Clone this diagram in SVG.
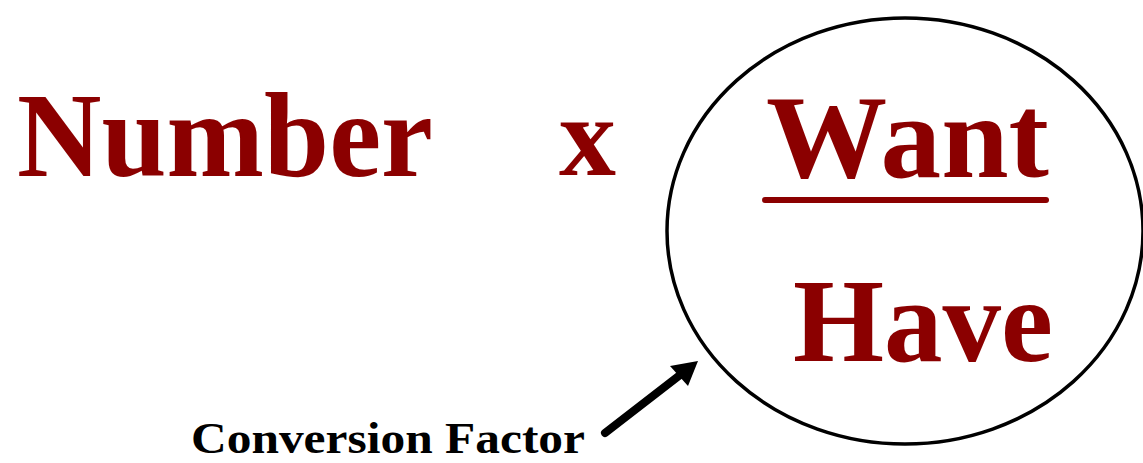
<svg xmlns="http://www.w3.org/2000/svg" width="1143" height="463" viewBox="0 0 1143 463">
<style>
.big{font-family:"Liberation Serif","Times New Roman",serif;font-weight:bold;fill:#8B0000;}
.lbl{font-family:"Liberation Serif","Times New Roman",serif;font-weight:bold;fill:#000;}
</style>
<rect width="1143" height="463" fill="#fff"/>
<g id="number"><text class="big" x="17" y="176" font-size="120" textLength="416" lengthAdjust="spacingAndGlyphs">Number</text></g>
<g id="times"><text class="big" x="559" y="175" font-size="114">x</text></g>
<g id="factor">
<ellipse cx="905" cy="231" rx="238" ry="213" fill="none" stroke="#000" stroke-width="3.5"/>
<text class="big" x="766" y="177" font-size="118" textLength="283" lengthAdjust="spacingAndGlyphs">Want</text>
<line x1="765" y1="200" x2="1046" y2="200" stroke="#8B0000" stroke-width="6" stroke-linecap="round"/>
<text class="big" x="793" y="361" font-size="118" textLength="260" lengthAdjust="spacingAndGlyphs">Have</text>
</g>
<g id="label"><text class="lbl" x="191" y="453" font-size="45" textLength="394" lengthAdjust="spacingAndGlyphs">Conversion Factor</text></g>
<g id="connectors">
<line x1="605" y1="433" x2="680" y2="375" stroke="#000" stroke-width="8" stroke-linecap="round"/>
<path d="M698,361 L670,366 L688,386 Z" fill="#000"/>
</g>
</svg>
